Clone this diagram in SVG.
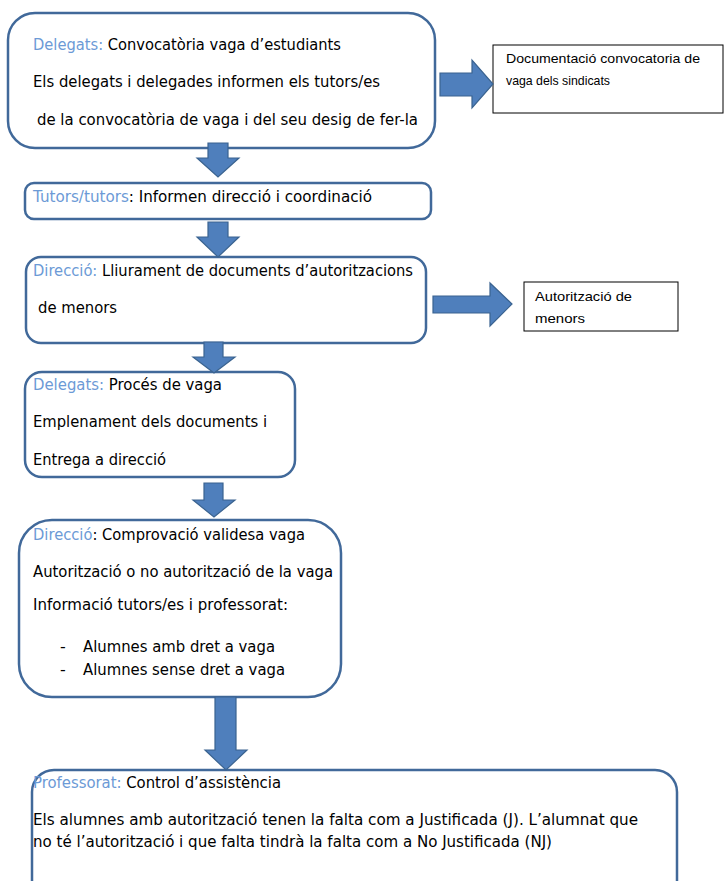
<svg xmlns="http://www.w3.org/2000/svg" width="725" height="881" viewBox="0 0 725 881">
<style>
.box{fill:#ffffff;stroke:#41699A;stroke-width:2.5}
.doc{fill:#ffffff;stroke:#000000;stroke-width:1}
.t{font-family:"DejaVu Sans","Verdana",sans-serif;font-size:16px;fill:#000000}
.c{font-family:"DejaVu Sans","Verdana",sans-serif;font-size:16px;fill:#000000}
.s{font-family:"Liberation Sans","Arial",sans-serif;font-size:13px;fill:#000000}
.lb{fill:#6C9AD6}
.arr{fill:#4F7FBC;stroke:#3A6390;stroke-width:1.2}
</style>
<g id="node-delegats-1">
<rect class="box" x="8" y="13" width="427" height="135" rx="27"/>
<text class="t" x="33" y="50" textLength="308" lengthAdjust="spacingAndGlyphs"><tspan class="lb">Delegats:</tspan> Convocatòria vaga d’estudiants</text>
<text class="t" x="33" y="87" textLength="347" lengthAdjust="spacingAndGlyphs">Els delegats i delegades informen els tutors/es</text>
<text class="t" x="37" y="125" textLength="381" lengthAdjust="spacingAndGlyphs">de la convocatòria de vaga i del seu desig de fer-la</text>
</g>
<g id="node-documentacio">
<rect class="doc" x="493" y="45" width="230" height="68"/>
<text class="s" x="506" y="63" textLength="194" lengthAdjust="spacingAndGlyphs">Documentació convocatoria de</text>
<text class="s" x="506" y="85" textLength="104" lengthAdjust="spacingAndGlyphs">vaga dels sindicats</text>
</g>
<g id="node-tutors">
<rect class="box" x="25" y="183" width="406" height="36" rx="9"/>
<text class="t" x="33" y="202" textLength="339" lengthAdjust="spacingAndGlyphs"><tspan class="lb">Tutors/tutors</tspan>: Informen direcció i coordinació</text>
</g>
<g id="node-direccio-1">
<rect class="box" x="26" y="257" width="400" height="86" rx="15"/>
<text class="t" x="33" y="276" textLength="380" lengthAdjust="spacingAndGlyphs"><tspan class="lb">Direcció:</tspan> Lliurament de documents d’autoritzacions</text>
<text class="t" x="38" y="313" textLength="79" lengthAdjust="spacingAndGlyphs">de menors</text>
</g>
<g id="node-autoritzacio">
<rect class="doc" x="524" y="282" width="154" height="49"/>
<text class="s" x="535" y="301" textLength="97" lengthAdjust="spacingAndGlyphs">Autorització de</text>
<text class="s" x="535" y="323" textLength="50" lengthAdjust="spacingAndGlyphs">menors</text>
</g>
<g id="node-delegats-2">
<rect class="box" x="25" y="372" width="270" height="105" rx="17"/>
<text class="t" x="33" y="390" textLength="189" lengthAdjust="spacingAndGlyphs"><tspan class="lb">Delegats:</tspan> Procés de vaga</text>
<text class="t" x="33" y="427" textLength="234" lengthAdjust="spacingAndGlyphs">Emplenament dels documents i</text>
<text class="t" x="33" y="465" textLength="133" lengthAdjust="spacingAndGlyphs">Entrega a direcció</text>
</g>
<g id="node-direccio-2">
<rect class="box" x="19" y="520" width="322" height="177" rx="33"/>
<text class="t" x="33" y="540" textLength="272" lengthAdjust="spacingAndGlyphs"><tspan class="lb">Direcció</tspan>: Comprovació validesa vaga</text>
<text class="t" x="33" y="577" textLength="300" lengthAdjust="spacingAndGlyphs">Autorització o no autorització de la vaga</text>
<text class="t" x="33" y="610" textLength="255" lengthAdjust="spacingAndGlyphs">Informació tutors/es i professorat:</text>
<text class="t" x="60" y="652">-</text>
<text class="t" x="83" y="652" textLength="192" lengthAdjust="spacingAndGlyphs">Alumnes amb dret a vaga</text>
<text class="t" x="60" y="675">-</text>
<text class="t" x="83" y="675" textLength="202" lengthAdjust="spacingAndGlyphs">Alumnes sense dret a vaga</text>
</g>
<g id="node-professorat">
<rect class="box" x="32" y="770" width="645" height="140" rx="22"/>
<text class="c" x="33" y="788" textLength="248" lengthAdjust="spacingAndGlyphs"><tspan class="lb">Professorat:</tspan> Control d’assistència</text>
<text class="c" x="33" y="825" textLength="605" lengthAdjust="spacingAndGlyphs">Els alumnes amb autorització tenen la falta com a Justificada (J). L’alumnat que</text>
<text class="c" x="33" y="847" textLength="519" lengthAdjust="spacingAndGlyphs">no té l’autorització i que falta tindrà la falta com a No Justificada (NJ)</text>
</g>
<g id="connectors">
<path class="arr" d="M208,143 L228,143 L228,158 L239,158 L218,177 L197,158 L208,158 Z"/>
<path class="arr" d="M208,222 L228,222 L228,237 L239,237 L218,257 L197,237 L208,237 Z"/>
<path class="arr" d="M204,342 L223,342 L223,357 L235,357 L214,373 L193,357 L204,357 Z"/>
<path class="arr" d="M204,483 L223,483 L223,500 L235,500 L214,517 L193,500 L204,500 Z"/>
<path class="arr" d="M215,697 L236,697 L236,750 L247,750 L226,770 L205,750 L215,750 Z"/>
<path class="arr" d="M440,73 L472,73 L472,60 L493,84 L472,108 L472,96 L440,96 Z"/>
<path class="arr" d="M433,296 L490,296 L490,283 L512,304 L490,326 L490,313 L433,313 Z"/>
</g>
</svg>
